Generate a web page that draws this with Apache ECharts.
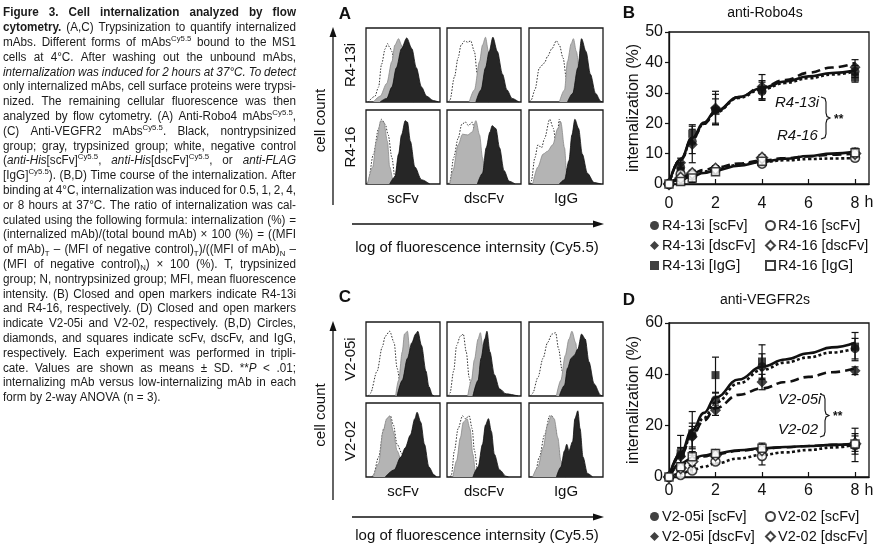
<!DOCTYPE html>
<html>
<head>
<meta charset="utf-8">
<script src="https://cdn.jsdelivr.net/npm/echarts@6/dist/echarts.min.js"></script>
<style>
  html, body { margin: 0; padding: 0; background: #fff; }
  #fig { width: 876px; height: 550px; }
</style>
</head>
<body>
<div id="fig"></div>
<script>
// time points (h) of the measurements
const hours = [0, 0.5, 1, 2, 4, 8];
// points
const curveHours = [0, 0.5, 1, 1.5, 2, 3, 4, 5, 6, 7, 8];
const xTicks = [0, 2, 4, 6, 8];

// B: anti-Robo4s, internalization (%) and SD
const r413i_scFv = [0, 5.5, 14, 24.5, 30.5, 37];
const r413i_scFv_sd = [0, 1.5, 4, 5, 3, 2];
const r413i_dscFv = [0, 7, 13, 25, 32, 38.4];
const r413i_dscFv_sd = [0, 1.5, 6, 5.5, 4, 2.5];
const r413i_IgG = [0, 4, 16.5, 24, 31, 35];
const r413i_IgG_sd = [0, 1, 3, 4, 3, 1.5];
const r416_scFv = [0, 3.2, 2.8, 4.8, 6.7, 8.6];
const r416_scFv_sd = [0, 1, 1, 1, 1, 1];
const r416_dscFv = [0, 2, 3.5, 5, 8.6, 10];
const r416_dscFv_sd = [0, 1, 1, 1, 1, 1.5];
const r416_IgG = [0, 0.8, 2, 4, 7.5, 10.3];
const r416_IgG_sd = [0, 1, 1.5, 1, 1, 1.5];
// fitted curves B
const fitB_r413i_scFv = [0, 8, 14.8, 19.8, 23.6, 28.3, 31.2, 33.2, 34.8, 36, 37];
const fitB_r413i_dscFv = [0, 8, 14.8, 19.8, 23.7, 28.6, 31.8, 34.2, 36.6, 38.3, 39.8];
const fitB_r413i_IgG = [0, 8.2, 15.2, 20.2, 23.9, 28.6, 31.6, 33.7, 35.4, 36.5, 37.3];
const fitB_r416_scFv = [0, 1.8, 3.2, 4.1, 4.8, 6.3, 7.3, 7.8, 8.2, 8.4, 8.5];
const fitB_r416_dscFv = [0, 2, 3.5, 4.6, 5.4, 6.7, 7.7, 8.5, 9.1, 9.6, 10];
const fitB_r416_IgG = [0, 1.4, 2.6, 3.6, 4.5, 6, 7.3, 8.3, 9.2, 10, 10.6];

// D: anti-VEGFR2s
const v205i_scFv = [0, 8.5, 16, 30, 43, 50];
const v205i_scFv_sd = [0, 3, 5, 3, 5, 4];
const v205i_dscFv = [0, 8, 15.7, 26, 37, 41.4];
const v205i_dscFv_sd = [0, 3, 4, 2, 3, 1.5];
const v205i_IgG = [0, 9.2, 17, 39.7, 45, 50.8];
const v205i_IgG_sd = [0, 7, 8.5, 7, 6.5, 5.5];
const v202_scFv = [0, 0.8, 2.5, 6, 8.2, 12.5];
const v202_scFv_sd = [0, 1, 1, 1, 3.5, 6.5];
const v202_dscFv = [0, 3.5, 6, 8.5, 10.5, 13];
const v202_dscFv_sd = [0, 1, 1.5, 1.5, 2, 3];
const v202_IgG = [0, 4, 7.9, 9.2, 11.2, 12.9];
const v202_IgG_sd = [0, 1.5, 2, 1.5, 2, 4];
// fitted curves D
const fitD_v205i_scFv = [0, 8.8, 16.5, 23, 29, 36.5, 41.7, 44.6, 46.6, 48.5, 50.1];
const fitD_v205i_dscFv = [0, 8.5, 16.4, 22, 26.8, 32, 34.5, 37, 39, 40.8, 42.3];
const fitD_v205i_IgG = [0, 9.2, 18.3, 25, 31, 38, 43, 45.8, 48.2, 50.5, 52.3];
const fitD_v202_scFv = [0, 1.2, 2.7, 4, 5.3, 7.2, 8.6, 9.6, 10.5, 11.5, 12.5];
const fitD_v202_dscFv = [0, 4.8, 6.8, 8, 8.9, 10.2, 11, 11.6, 12.1, 12.5, 12.8];
const fitD_v202_IgG = [0, 5.3, 7.3, 8.4, 9.2, 10.4, 11.2, 11.7, 12.1, 12.5, 12.9];

// flow cytometry histograms: [negative control, trypsinized, nontrypsinized]
// each point = [fluorescence (% of box width), cell count (% of box height)]
const A_R413i_scFv = [
  [[3,0],[12,8],[17,21],[21,53],[26,75],[29,82],[32,77],[35,71],[39,48],[46,21],[55,5],[64,0]],
  [[10,0],[19,8],[28,26],[35,57],[39,80],[44,89],[48,80],[53,53],[59,21],[66,5],[73,0]],
  [[19,0],[28,5],[35,21],[41,48],[48,75],[55,90],[62,75],[68,48],[75,21],[82,8],[91,2],[98,0]]
];
const A_R413i_dscFv = [
  [[2,0],[4,3],[10,35],[15,62],[19,80],[24,86],[28,84],[32,86],[37,71],[41,39],[46,17],[52,3],[56,0]],
  [[30,0],[37,17],[44,57],[48,80],[52,91],[56,71],[61,35],[68,8],[75,0]],
  [[39,0],[46,17],[52,48],[57,71],[62,91],[68,71],[75,39],[81,17],[88,5],[97,0]]
];
const A_R413i_IgG = [
  [[1,0],[3,3],[8,17],[14,48],[21,55],[25,64],[31,75],[37,86],[41,80],[46,62],[51,30],[57,8],[63,0]],
  [[41,0],[48,17],[52,57],[57,82],[60,89],[64,71],[69,35],[75,8],[79,0]],
  [[52,0],[59,12],[66,48],[71,89],[77,71],[83,39],[90,12],[97,1],[99,0]]
];
const A_R416_scFv = [
  [[1,0],[3,4],[10,42],[17,78],[21,91],[26,84],[30,69],[35,37],[39,10],[46,0]],
  [[2,0],[9,24],[14,60],[20,89],[24,87],[29,60],[32,24],[37,4],[41,0]],
  [[32,0],[39,10],[44,42],[48,69],[53,89],[56,87],[60,60],[66,24],[75,6],[86,0]]
];
const A_R416_dscFv = [
  [[2,0],[4,4],[9,37],[15,64],[20,84],[25,87],[29,82],[34,87],[38,73],[41,42],[46,10],[50,0]],
  [[4,0],[8,19],[15,55],[21,70],[28,69],[34,73],[39,89],[44,69],[48,37],[52,10],[57,0]],
  [[41,0],[48,15],[53,51],[58,73],[61,82],[66,78],[71,51],[77,19],[84,4],[92,0]]
];
const A_R416_IgG = [
  [[1,0],[3,4],[8,37],[12,55],[17,51],[21,64],[28,91],[33,78],[37,51],[41,91],[46,55],[49,24],[54,4],[57,0]],
  [[5,0],[12,24],[19,42],[25,46],[32,55],[39,78],[43,87],[48,51],[51,15],[57,0]],
  [[41,0],[48,6],[54,33],[58,69],[62,91],[67,78],[72,42],[79,15],[88,2],[97,0]]
];
const C_V205i_scFv = [
  [[3,0],[6,4],[15,35],[22,69],[26,84],[32,91],[38,75],[42,39],[47,13],[51,1],[53,0]],
  [[40,0],[44,22],[49,62],[52,87],[56,91],[59,66],[64,35],[69,8],[73,0]],
  [[42,0],[49,22],[56,53],[62,75],[67,87],[70,91],[75,71],[81,35],[85,13],[90,1],[92,0]]
];
const C_V205i_dscFv = [
  [[2,0],[4,4],[9,35],[13,71],[18,84],[22,87],[26,62],[30,26],[34,4],[39,0]],
  [[28,0],[33,22],[37,51],[42,80],[45,89],[49,66],[53,35],[57,8],[61,0]],
  [[35,0],[42,22],[46,53],[51,80],[54,91],[58,62],[64,30],[71,10],[80,3],[96,0]]
];
const C_V205i_IgG = [
  [[2,0],[5,4],[12,26],[19,53],[25,75],[31,87],[36,89],[40,66],[45,35],[51,8],[57,0]],
  [[37,0],[43,22],[49,57],[54,80],[58,91],[63,75],[67,39],[72,8],[76,0]],
  [[41,0],[48,15],[52,39],[57,53],[61,57],[66,66],[71,87],[76,80],[81,48],[88,17],[97,1],[99,0]]
];
const C_V202_scFv = [
  [[8,0],[10,3],[17,28],[24,68],[29,82],[33,86],[37,73],[42,46],[49,32],[56,14],[62,1],[64,0]],
  [[10,0],[17,19],[23,64],[28,82],[32,86],[37,64],[42,37],[49,19],[56,5],[62,0]],
  [[26,0],[38,10],[47,28],[53,41],[60,59],[66,82],[69,91],[74,77],[79,46],[85,14],[92,3],[95,0]]
];
const C_V202_dscFv = [
  [[4,0],[6,3],[10,37],[15,68],[21,86],[25,82],[30,86],[34,68],[37,37],[42,5],[44,0]],
  [[8,0],[13,23],[18,55],[22,77],[27,82],[31,68],[35,32],[39,3],[41,0]],
  [[35,0],[42,14],[48,46],[52,73],[56,82],[60,64],[64,32],[71,10],[80,1],[83,0]]
];
const C_V202_IgG = [
  [[6,0],[8,3],[14,28],[21,59],[28,86],[31,86],[35,73],[39,46],[43,14],[48,1],[50,0]],
  [[5,0],[12,14],[19,41],[25,73],[30,86],[34,82],[39,55],[43,23],[50,3],[53,0]],
  [[37,0],[43,14],[48,37],[51,46],[54,37],[59,50],[62,82],[66,93],[69,68],[73,28],[79,5],[86,0]]
];

const histRowsA = ['R4-13i', 'R4-16'];
const histRowsC = ['V2-05i', 'V2-02'];
const histCols = ['scFv', 'dscFv', 'IgG'];

// caption text, one entry per printed line
const capLines = [
  '{b|Figure 3. Cell internalization analyzed by flow}',
  '{b|cytometry.} (A,C) Trypsinization to quantify internalized',
  'mAbs. Different forms of mAbs{sup|Cy5.5} bound to the MS1',
  'cells at 4°C. After washing out the unbound mAbs,',
  '{it|internalization was induced for 2 hours at 37°C. To detect}',
  'only internalized mAbs, cell surface proteins were trypsi-',
  'nized. The remaining cellular fluorescence was then',
  'analyzed by flow cytometry. (A) Anti-Robo4 mAbs{sup|Cy5.5},',
  '(C) Anti-VEGFR2 mAbs{sup|Cy5.5}. Black, nontrypsinized',
  'group; gray, trypsinized group; white, negative control',
  '({it|anti-His}[scFv]{sup|Cy5.5}, {it|anti-His}[dscFv]{sup|Cy5.5}, or {it|anti-FLAG}',
  '[IgG]{sup|Cy5.5}). (B,D) Time course of the internalization. After',
  'binding at 4°C, internalization was induced for 0.5, 1, 2, 4,',
  'or 8 hours at 37°C. The ratio of internalization was cal-',
  'culated using the following formula: internalization (%) =',
  '(internalized mAb)/(total bound mAb) × 100 (%) = ((MFI',
  'of mAb){sub|T} – (MFI of negative control){sub|T})/((MFI of mAb){sub|N} –',
  '(MFI of negative control){sub|N}) × 100 (%). T, trypsinized',
  'group; N, nontrypsinized group; MFI, mean fluorescence',
  'intensity. (B) Closed and open markers indicate R4-13i',
  'and R4-16, respectively. (D) Closed and open markers',
  'indicate V2-05i and V2-02, respectively. (B,D) Circles,',
  'diamonds, and squares indicate scFv, dscFv, and IgG,',
  'respectively. Each experiment was performed in tripli-',
  'cate. Values are shown as means ± SD. **{it|P} < .01;',
  'internalizing mAb versus low-internalizing mAb in each',
  'form by 2-way ANOVA (n = 3).'
];

const FONT = '"Liberation Sans", Arial, sans-serif';
const INK = '#111';

// ---------- caption layout (justified) ----------
const capStyles = {
  n: { fontSize: 12, dy: 0 },
  b: { fontSize: 12, fontWeight: 'bold', dy: 0 },
  it: { fontSize: 12, fontStyle: 'italic', dy: 0 },
  sup: { fontSize: 8, dy: -4 },
  sub: { fontSize: 8, dy: 3.5 }
};
const mctx = document.createElement('canvas').getContext('2d');
function cssFont(st) {
  return (st.fontStyle || 'normal') + ' ' + (st.fontWeight || 'normal') + ' ' + st.fontSize + 'px "Liberation Sans"';
}
function textW(t, st) { mctx.font = cssFont(st); return mctx.measureText(t).width; }
function parseLine(str) {
  const runs = [];
  const re = /\{(\w+)\|([^}]*)\}|([^{]+)/g;
  let m;
  while ((m = re.exec(str))) {
    if (m[1]) runs.push({ st: m[1], t: m[2] }); else runs.push({ st: 'n', t: m[3] });
  }
  const words = [];
  let cur = [];
  runs.forEach(function (r) {
    r.t.split(' ').forEach(function (p, i) {
      if (i > 0) { if (cur.length) words.push(cur); cur = []; }
      if (p) cur.push({ st: r.st, t: p });
    });
  });
  if (cur.length) words.push(cur);
  return words;
}
function buildCaption() {
  const left = 3, width = 293, top = 13, step = 14.8, minGap = 2.6;
  const lines = capLines.map(parseLine);
  lines.forEach(function (ws) {
    ws.forEach(function (w) {
      w.width = 0;
      w.forEach(function (r) { r.w = textW(r.t, capStyles[r.st]); w.width += r.w; });
    });
  });
  let s = 1;
  lines.forEach(function (ws, li) {
    if (li === lines.length - 1) return;
    const sum = ws.reduce(function (a, w) { return a + w.width; }, 0);
    s = Math.min(s, (width - (ws.length - 1) * minGap) / sum);
  });
  const els = [];
  lines.forEach(function (ws, li) {
    const sum = ws.reduce(function (a, w) { return a + w.width; }, 0) * s;
    const last = li === lines.length - 1;
    const gap = last ? textW(' ', capStyles.n) * s : (width - sum) / (ws.length - 1);
    let x = left;
    const y = top + li * step;
    ws.forEach(function (w) {
      let rx = x;
      w.forEach(function (r) {
        const st = capStyles[r.st];
        els.push({
          type: 'text', x: rx, y: y + st.dy, scaleX: s, silent: true,
          style: {
            text: r.t, fontSize: st.fontSize, fontFamily: FONT,
            fontWeight: st.fontWeight || 'normal', fontStyle: st.fontStyle || 'normal',
            fill: '#1a1a1a', align: 'left', verticalAlign: 'middle'
          }
        });
        rx += r.w * s;
      });
      x += w.width * s + gap;
    });
  });
  return els;
}

// ---------- helpers ----------
function txt(x, y, text, size, opt) {
  opt = opt || {};
  return {
    type: 'text', x: x, y: y, rotation: opt.rot || 0, silent: true,
    style: {
      text: text, fontSize: size, fontFamily: FONT, fill: INK,
      fontWeight: opt.bold ? 'bold' : 'normal', fontStyle: opt.italic ? 'italic' : 'normal',
      align: opt.align || 'center', verticalAlign: 'middle'
    }
  };
}
function arrowUp(x, yTop, yBot) {
  return [
    { type: 'line', silent: true, shape: { x1: x, y1: yBot, x2: x, y2: yTop + 6 }, style: { stroke: INK, lineWidth: 1.3 } },
    { type: 'polygon', silent: true, shape: { points: [[x, yTop], [x - 3.5, yTop + 10], [x + 3.5, yTop + 10]] }, style: { fill: INK } }
  ];
}
function arrowRight(y, xL, xR) {
  return [
    { type: 'line', silent: true, shape: { x1: xL, y1: y, x2: xR - 6, y2: y }, style: { stroke: INK, lineWidth: 1.3 } },
    { type: 'polygon', silent: true, shape: { points: [[xR, y], [xR - 11, y - 3.5], [xR - 11, y + 3.5]] }, style: { fill: INK } }
  ];
}
function brace(x, top, bot) {
  const mid = (top + bot) / 2;
  return {
    type: 'polyline', silent: true,
    shape: { points: [[x, top], [x + 4, top + 1.5], [x + 5, top + 5], [x + 5, mid - 5], [x + 6, mid - 1.5], [x + 9, mid],
      [x + 6, mid + 1.5], [x + 5, mid + 5], [x + 5, bot - 5], [x + 4, bot - 1.5], [x, bot]] },
    style: { stroke: INK, lineWidth: 1.1, fill: null }
  };
}

// ---------- grids / axes / series ----------
const grids = [], xAxes = [], yAxes = [], series = [];
const colX = [366, 447, 529];
const boxW = 74, boxH = 74;
const histSets = [
  { rowsY: [28, 110], data: [A_R413i_scFv, A_R413i_dscFv, A_R413i_IgG, A_R416_scFv, A_R416_dscFv, A_R416_IgG] },
  { rowsY: [322, 403], data: [C_V205i_scFv, C_V205i_dscFv, C_V205i_IgG, C_V202_scFv, C_V202_dscFv, C_V202_IgG] }
];
histSets.forEach(function (set) {
  set.data.forEach(function (h, k) {
    const gi = grids.length;
    grids.push({ left: colX[k % 3], top: set.rowsY[Math.floor(k / 3)], width: boxW, height: boxH,
      show: true, borderColor: '#1a1a1a', borderWidth: 1.3, backgroundColor: '#fff' });
    xAxes.push({ gridIndex: gi, type: 'value', min: 0, max: 100, show: false });
    yAxes.push({ gridIndex: gi, type: 'value', min: 0, max: 104, show: false });
    series.push({ type: 'line', xAxisIndex: gi, yAxisIndex: gi, data: h[0], smooth: 0.3, smoothMonotone: 'x',
      symbol: 'none', silent: true, lineStyle: { color: '#333', width: 1, type: [1.5, 1.5] }, z: 2 });
    series.push({ type: 'line', xAxisIndex: gi, yAxisIndex: gi, data: h[1], smooth: 0.3, smoothMonotone: 'x',
      symbol: 'none', silent: true, lineStyle: { color: '#8a8a8a', width: 0.8 }, areaStyle: { color: '#b4b4b4', opacity: 1 }, z: 3 });
    series.push({ type: 'line', xAxisIndex: gi, yAxisIndex: gi, data: h[2], smooth: 0.3, smoothMonotone: 'x',
      symbol: 'none', silent: true, lineStyle: { color: '#111', width: 0.8 }, areaStyle: { color: '#262626', opacity: 1 }, z: 4 });
  });
});

function addChart(cfg) {
  const gi = grids.length;
  grids.push({ left: 669, top: cfg.top, width: 200, height: cfg.height, show: true, borderColor: INK, borderWidth: 1.3 });
  xAxes.push({
    gridIndex: gi, type: 'value', min: 0, max: 8.6, interval: 2,
    axisLine: { lineStyle: { color: INK, width: 1.3 } },
    axisTick: { inside: true, length: 5, lineStyle: { color: INK, width: 1.2 } },
    axisLabel: { color: INK, fontSize: 16, fontFamily: FONT, margin: cfg.xMargin, showMaxLabel: false,
      formatter: function (v) { return xTicks.indexOf(v) >= 0 ? String(v) : ''; } },
    splitLine: { show: false }
  });
  yAxes.push({
    gridIndex: gi, type: 'value', min: 0, max: cfg.ymax, interval: cfg.yint,
    name: 'internalization (%)', nameLocation: 'middle', nameGap: 27,
    nameTextStyle: { color: INK, fontSize: 16, fontFamily: FONT },
    axisLine: { show: true, lineStyle: { color: INK, width: 1.3 } },
    axisTick: { show: true, length: 4, lineStyle: { color: INK, width: 1.2 } },
    axisLabel: { color: INK, fontSize: 16, fontFamily: FONT, margin: 6 },
    splitLine: { show: false }
  });
  cfg.sets.forEach(function (s) {
    series.push({
      type: 'line', xAxisIndex: gi, yAxisIndex: gi, silent: true, smooth: 0.45, smoothMonotone: 'x', symbol: 'none',
      data: curveHours.map(function (h, i) { return [h, s.fit[i]]; }),
      lineStyle: { color: INK, width: 2.6, type: s.dash }, z: 3
    });
    series.push({
      type: 'custom', xAxisIndex: gi, yAxisIndex: gi, silent: true, z: 4,
      data: hours.map(function (h, i) { return [h, s.v[i] - s.sd[i], s.v[i] + s.sd[i]]; })
        .filter(function (d) { return d[2] > d[1]; }),
      encode: { x: 0, y: [1, 2] },
      renderItem: function (params, api) {
        const lo = api.coord([api.value(0), api.value(1)]);
        const hi = api.coord([api.value(0), api.value(2)]);
        const st = { stroke: INK, lineWidth: 1.2 };
        return { type: 'group', children: [
          { type: 'line', shape: { x1: lo[0], y1: lo[1], x2: hi[0], y2: hi[1] }, style: st },
          { type: 'line', shape: { x1: lo[0] - 3.5, y1: lo[1], x2: lo[0] + 3.5, y2: lo[1] }, style: st },
          { type: 'line', shape: { x1: hi[0] - 3.5, y1: hi[1], x2: hi[0] + 3.5, y2: hi[1] }, style: st }
        ] };
      }
    });
    series.push({
      name: s.name, type: 'scatter', xAxisIndex: gi, yAxisIndex: gi, symbol: s.symbol, symbolSize: s.size,
      data: hours.map(function (h, i) { return [h, s.v[i]]; }),
      itemStyle: s.filled ? { color: INK } : { color: '#fff', borderColor: INK, borderWidth: 1.5 }, z: 5
    });
  });
}

addChart({
  top: 32, height: 152, ymax: 50, yint: 10, xMargin: 12,
  sets: [
    { name: 'R4-13i [scFv]', v: r413i_scFv, sd: r413i_scFv_sd, fit: fitB_r413i_scFv, dash: [3, 2.5], symbol: 'circle', size: 9, filled: true },
    { name: 'R4-13i [dscFv]', v: r413i_dscFv, sd: r413i_dscFv_sd, fit: fitB_r413i_dscFv, dash: [9, 5], symbol: 'diamond', size: 11, filled: true },
    { name: 'R4-13i [IgG]', v: r413i_IgG, sd: r413i_IgG_sd, fit: fitB_r413i_IgG, dash: 'solid', symbol: 'rect', size: 8, filled: true },
    { name: 'R4-16 [scFv]', v: r416_scFv, sd: r416_scFv_sd, fit: fitB_r416_scFv, dash: [3, 2.5], symbol: 'circle', size: 9, filled: false },
    { name: 'R4-16 [dscFv]', v: r416_dscFv, sd: r416_dscFv_sd, fit: fitB_r416_dscFv, dash: [9, 5], symbol: 'diamond', size: 11, filled: false },
    { name: 'R4-16 [IgG]', v: r416_IgG, sd: r416_IgG_sd, fit: fitB_r416_IgG, dash: 'solid', symbol: 'rect', size: 8, filled: false }
  ]
});
addChart({
  top: 323, height: 154, ymax: 60, yint: 20, xMargin: 6,
  sets: [
    { name: 'V2-05i [scFv]', v: v205i_scFv, sd: v205i_scFv_sd, fit: fitD_v205i_scFv, dash: [3, 2.5], symbol: 'circle', size: 9, filled: true },
    { name: 'V2-05i [dscFv]', v: v205i_dscFv, sd: v205i_dscFv_sd, fit: fitD_v205i_dscFv, dash: [9, 5], symbol: 'diamond', size: 11, filled: true },
    { name: 'V2-05i [IgG]', v: v205i_IgG, sd: v205i_IgG_sd, fit: fitD_v205i_IgG, dash: 'solid', symbol: 'rect', size: 8, filled: true },
    { name: 'V2-02 [scFv]', v: v202_scFv, sd: v202_scFv_sd, fit: fitD_v202_scFv, dash: [3, 2.5], symbol: 'circle', size: 9, filled: false },
    { name: 'V2-02 [dscFv]', v: v202_dscFv, sd: v202_dscFv_sd, fit: fitD_v202_dscFv, dash: [9, 5], symbol: 'diamond', size: 11, filled: false },
    { name: 'V2-02 [IgG]', v: v202_IgG, sd: v202_IgG_sd, fit: fitD_v202_IgG, dash: 'solid', symbol: 'rect', size: 8, filled: false }
  ]
});

function legendCol(names, left, top) {
  return {
    data: names, orient: 'vertical', left: left, top: top, height: 90, itemWidth: 9, itemHeight: 9, itemGap: 5,
    selectedMode: false, padding: 0,
    textStyle: { color: INK, fontSize: 14.5, fontFamily: FONT, padding: [0, 0, 0, -2] }
  };
}

// ---------- static text / decorations ----------
let graphics = buildCaption();
[['A', 28, histRowsA, 205, 224, 248, 199, 14], ['C', 322, histRowsC, 500, 517, 536, 492, 297]].forEach(function (p) {
  const top = p[1];
  graphics.push(txt(345, p[7], p[0], 17, { bold: true }));
  graphics = graphics.concat(arrowUp(333, top - 1, p[3]));
  graphics = graphics.concat(arrowRight(p[4], 352, 604));
  graphics.push(txt(321, (top + p[3]) / 2 + 4, 'cell count', 15, { rot: Math.PI / 2 }));
  graphics.push(txt(477, p[5], 'log of fluorescence internsity (Cy5.5)', 15));
  p[2].forEach(function (r, i) {
    graphics.push(txt(351, top + 37 + i * 82, r, 15, { rot: Math.PI / 2 }));
  });
  histCols.forEach(function (c, i) {
    graphics.push(txt(colX[i] + 37, p[6], c, 15));
  });
});
graphics.push(txt(629, 13, 'B', 17, { bold: true }));
graphics.push(txt(765, 13, 'anti-Robo4s', 14));
graphics.push(txt(869, 203, 'h', 16));
graphics.push(txt(775, 103, 'R4-13i', 15, { italic: true, align: 'left' }));
graphics.push(txt(777, 136, 'R4-16', 15, { italic: true, align: 'left' }));
graphics.push(brace(821, 97, 139));
graphics.push(txt(834, 120, '**', 12, { bold: true, align: 'left' }));
graphics.push(txt(629, 300, 'D', 17, { bold: true }));
graphics.push(txt(765, 300, 'anti-VEGFR2s', 14));
graphics.push(txt(869, 491, 'h', 16));
graphics.push(txt(778, 400, 'V2-05i', 15, { italic: true, align: 'left' }));
graphics.push(txt(778, 430, 'V2-02', 15, { italic: true, align: 'left' }));
graphics.push(brace(820, 394, 437));
graphics.push(txt(833, 417, '**', 12, { bold: true, align: 'left' }));

const chart = echarts.init(document.getElementById('fig'), null, { renderer: 'canvas' });
chart.setOption({
  animation: false,
  backgroundColor: '#fff',
  grid: grids,
  xAxis: xAxes,
  yAxis: yAxes,
  legend: [
    legendCol(['R4-13i [scFv]', 'R4-13i [dscFv]', 'R4-13i [IgG]'], 650, 218),
    legendCol(['R4-16 [scFv]', 'R4-16 [dscFv]', 'R4-16 [IgG]'], 765, 218),
    // third row of the D legend falls below the picture edge
    legendCol(['V2-05i [scFv]', 'V2-05i [dscFv]'], 650, 509),
    legendCol(['V2-02 [scFv]', 'V2-02 [dscFv]'], 765, 509)
  ],
  series: series,
  graphic: graphics
});
</script>
</body>
</html>
